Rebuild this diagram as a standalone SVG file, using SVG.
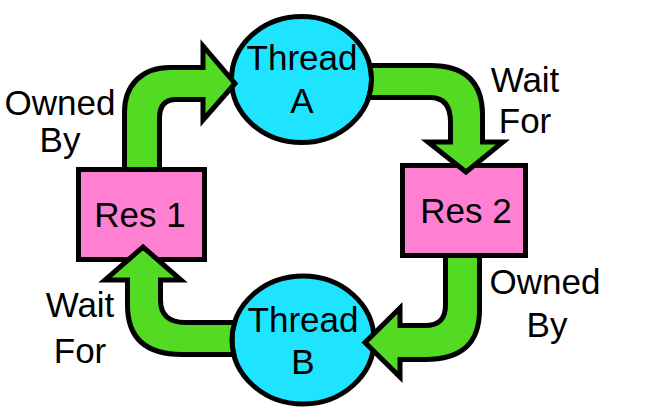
<svg xmlns="http://www.w3.org/2000/svg" width="659" height="413" viewBox="0 0 659 413">
<style>
.thread{fill:#1EE4FF;stroke:#000;stroke-width:5}
.res{fill:#FF7FD2;stroke:#000;stroke-width:5}
.arrow{fill:#52DB22;stroke:#000;stroke-width:5;stroke-linejoin:miter;stroke-miterlimit:10}
text{font-family:"Liberation Sans",Arial,sans-serif;font-size:35px;fill:#000;text-anchor:middle}
</style>
<rect width="659" height="413" fill="#fff"/>
<g id="thread-a">
<ellipse class="thread" cx="301.5" cy="79.5" rx="70" ry="63"/>
<text x="302" y="70">Thread</text>
<text x="302" y="113">A</text>
</g>
<g id="thread-b">
<ellipse class="thread" cx="303" cy="340" rx="71" ry="64"/>
<text x="303" y="332">Thread</text>
<text x="303" y="374">B</text>
</g>
<g id="res-1">
<rect class="res" x="78.5" y="169.5" width="126" height="90"/>
<text x="140" y="227">Res 1</text>
</g>
<g id="res-2">
<rect class="res" x="402.5" y="165.5" width="123" height="90"/>
<text x="466" y="223">Res 2</text>
</g>
<g id="connectors">
<path class="arrow" d="M124.5 169.5 L124.5 112 C124.5 85 142 67.5 170 67.5 L203 67.5 L203 46 L235 83.5 L203 120 L203 99.5 L176 99.5 C165 99.5 159.5 106 159.5 118 L159.5 169.5 Z"/>
<path class="arrow" d="M369.75 65.5 L430 65.5 C465 65.5 482.5 82 482.5 115 L482.5 142 L503 142 L466 172 L428 142 L450.5 142 L450.5 122 C450.5 106 444 97.5 430 97.5 L368.6 97.5 A70 63 0 0 0 369.75 65.5 Z"/>
<path class="arrow" d="M445.5 255.5 L445.5 305 C445.5 319 439 325.5 425 325.5 L400 325.5 L400 308 L365 342.5 L400 377 L400 359.5 L425 359.5 C462 359.5 479.5 343 479.5 310 L479.5 255.5 Z"/>
<path class="arrow" d="M234.7 322.5 L185 322.5 C168 322.5 160.5 314 160.5 300 L160.5 280 L181 280 L143 247 L105 280 L127.5 280 L127.5 305 C127.5 338 146 354.5 182 354.5 L233.85 354.5 A71 64 0 0 1 234.7 322.5 Z"/>
</g>
<g id="labels">
<text x="60" y="115">Owned</text>
<text x="60" y="152">By</text>
<text x="525" y="92">Wait</text>
<text x="525" y="133">For</text>
<text x="545" y="294">Owned</text>
<text x="547" y="337">By</text>
<text x="80" y="317">Wait</text>
<text x="80" y="363">For</text>
</g>
</svg>
